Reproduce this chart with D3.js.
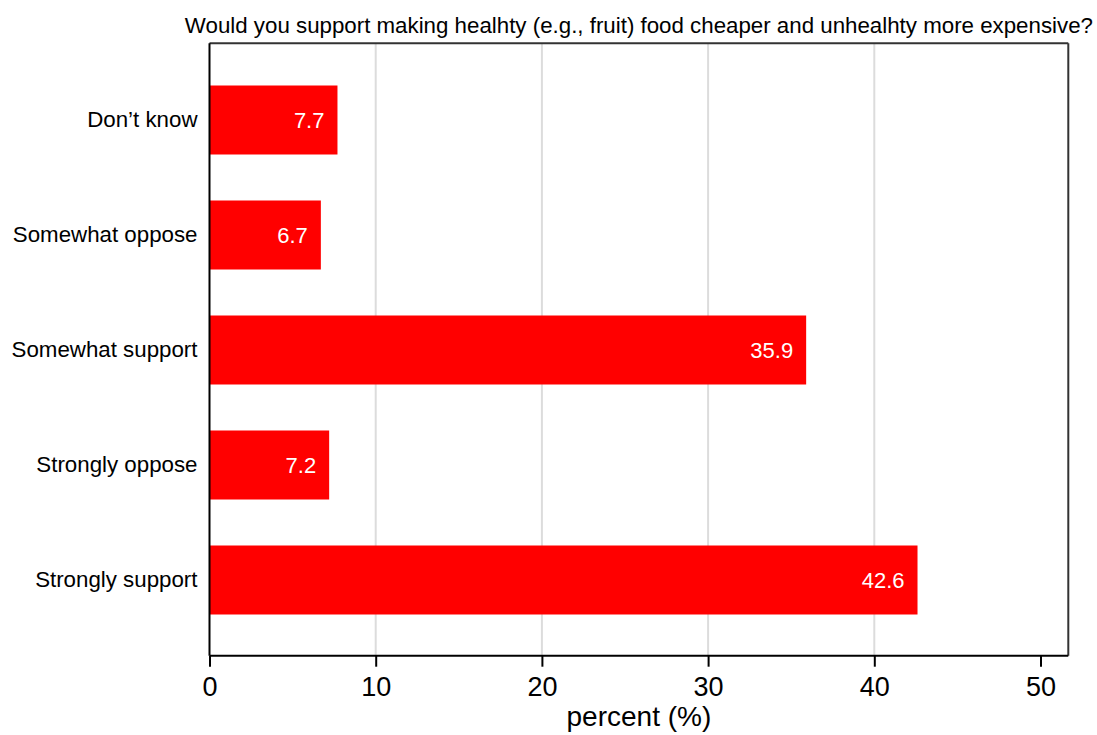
<!DOCTYPE html>
<html>
<head>
<meta charset="utf-8">
<script src="https://cdn.jsdelivr.net/npm/d3@7"></script>
<style>
  html, body { margin: 0; padding: 0; background: #fff; }
  svg { display: block; }
  text { font-family: "Liberation Sans", Arial, sans-serif; }
</style>
</head>
<body>
<svg id="chart" width="1097" height="735"></svg>
<script>
const categories = ["Don\u2019t know", "Somewhat oppose", "Somewhat support", "Strongly oppose", "Strongly support"];
const values = [7.7, 6.7, 35.9, 7.2, 42.6];
const xTicks = [0, 10, 20, 30, 40, 50];
const gridTicks = [10, 20, 30, 40];
const titleText = "Would you support making healhty (e.g., fruit) food cheaper and unhealhty more expensive?";
const xLabel = "percent (%)";

const svg = d3.select("#chart");
const W = 1097, H = 735;
const pLeft = 209.5, pRight = 1068.3, pTop = 43.3, pBottom = 655.7;

const x = d3.scaleLinear().domain([0, 50]).range([pLeft, 1040.5]);
const y = d3.scaleBand().domain(categories).range([62.5, 637.5]).paddingInner(0.4).paddingOuter(0.2);

svg.append("rect").attr("width", W).attr("height", H).attr("fill", "#fff");

// gridlines
svg.append("g").selectAll("line").data(gridTicks).join("line")
  .attr("x1", d => x(d)).attr("x2", d => x(d))
  .attr("y1", pTop).attr("y2", pBottom)
  .attr("stroke", "#dcdcdc").attr("stroke-width", 2);

// bars
svg.append("g").selectAll("rect").data(categories).join("rect")
  .attr("x", x(0))
  .attr("y", d => y(d))
  .attr("width", (d, i) => x(values[i]) - x(0))
  .attr("height", y.bandwidth())
  .attr("fill", "#ff0000");

// value labels
svg.append("g").selectAll("text").data(categories).join("text")
  .attr("x", (d, i) => x(values[i]) - 13)
  .attr("y", d => y(d) + y.bandwidth() / 2)
  .attr("dy", "0.36em")
  .attr("text-anchor", "end")
  .attr("fill", "#fff")
  .attr("font-size", 22)
  .text((d, i) => values[i].toFixed(1));

// frame top/right
svg.append("line").attr("x1", pLeft).attr("x2", pRight).attr("y1", pTop).attr("y2", pTop)
  .attr("stroke", "#333").attr("stroke-width", 2);
svg.append("line").attr("x1", pRight).attr("x2", pRight).attr("y1", pTop).attr("y2", pBottom)
  .attr("stroke", "#333").attr("stroke-width", 2);

// x axis
const xAxis = d3.axisBottom(x).tickValues(xTicks).tickSize(11).tickSizeOuter(0).tickPadding(10).tickFormat(d3.format("d"));
const gx = svg.append("g").attr("transform", `translate(0,${pBottom})`).call(xAxis);
gx.select(".domain").attr("d", `M${pLeft},0H${pRight}`).attr("stroke", "#000").attr("stroke-width", 2);
gx.selectAll(".tick line").attr("stroke", "#000").attr("stroke-width", 2);
gx.selectAll(".tick text").attr("font-size", 27).attr("fill", "#000")
  .attr("font-family", "'Liberation Sans', Arial, sans-serif");

// y axis
const yAxis = d3.axisLeft(y).tickSize(0).tickPadding(12);
const gy = svg.append("g").attr("transform", `translate(${pLeft},0)`).call(yAxis);
gy.select(".domain").attr("d", `M0,${pTop}V${pBottom}`).attr("stroke", "#000").attr("stroke-width", 2);
gy.selectAll(".tick text").attr("font-size", 22.3).attr("fill", "#000")
  .attr("font-family", "'Liberation Sans', Arial, sans-serif");

// title
svg.append("text").attr("x", (pLeft + pRight) / 2).attr("y", 33)
  .attr("text-anchor", "middle").attr("font-size", 22.3).attr("fill", "#000")
  .text(titleText);

// x label
svg.append("text").attr("x", (pLeft + pRight) / 2).attr("y", 726)
  .attr("text-anchor", "middle").attr("font-size", 28).attr("fill", "#000")
  .text(xLabel);
</script>
</body>
</html>
